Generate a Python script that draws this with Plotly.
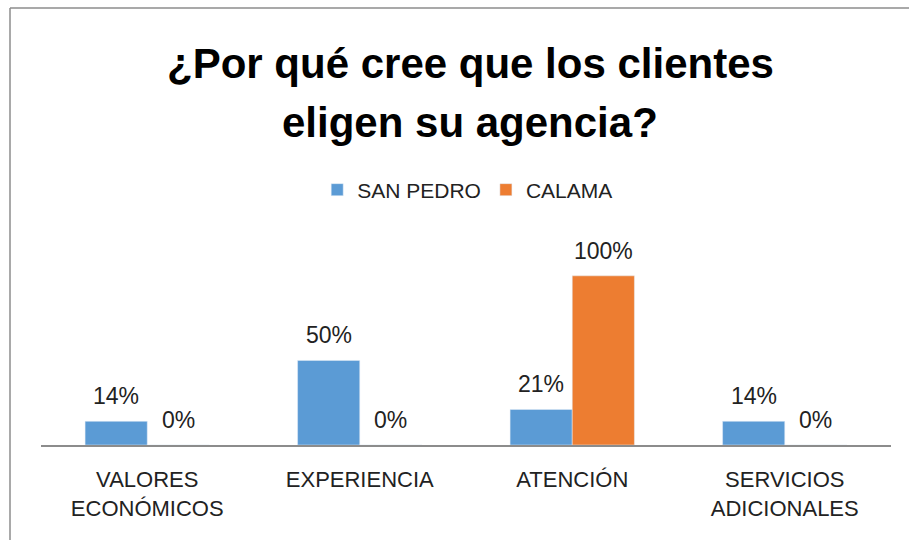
import plotly.graph_objects as go

categories = ["VALORES<br>ECONÓMICOS", "EXPERIENCIA", "ATENCIÓN", "SERVICIOS<br>ADICIONALES"]
san_pedro = [14, 50, 21, 14]
calama = [0, 0, 100, 0]
title_lines = ["¿Por qué cree que los clientes", "eligen su agencia?"]

W, H = 909, 540
ml, mr, mt, mb = 41, 18, 242, 95
pw = W - ml - mr
ph = H - mt - mb
font = "Liberation Sans, Arial, sans-serif"


def py(px):
    # pixel row -> paper y
    return (H - mb - px) / ph


fig = go.Figure()
for name, vals, color, shift in [("SAN PEDRO", san_pedro, "#5b9bd5", -31),
                                 ("CALAMA", calama, "#ed7d31", 31)]:
    fig.add_trace(go.Bar(x=categories, y=vals, name=name, marker=dict(color=color)))
    # value labels above each bar
    for cat, v in zip(categories, vals):
        fig.add_annotation(x=cat, y=v, text=f"{v}%", showarrow=False,
                           xshift=shift, yshift=25, yanchor="middle",
                           font=dict(size=23, color="#222222", family=font))

for i, line in enumerate(title_lines):
    fig.add_annotation(xref="paper", yref="paper", x=0.505, y=py(63 + 60 * i),
                       text=f"<b>{line}</b>", showarrow=False, yanchor="middle",
                       font=dict(size=42, color="#000000", family=font))

# chart frame (top and left edges visible)
fig.add_shape(type="line", xref="paper", yref="paper",
              x0=(10 - ml) / pw, x1=(W - ml) / pw, y0=py(8), y1=py(8),
              line=dict(color="#8c8c8c", width=1.5))
fig.add_shape(type="line", xref="paper", yref="paper",
              x0=(10 - ml) / pw, x1=(10 - ml) / pw, y0=py(8), y1=py(560),
              line=dict(color="#8c8c8c", width=1.5))

fig.update_layout(
    width=W, height=H,
    margin=dict(l=ml, r=mr, t=mt, b=mb),
    paper_bgcolor="white", plot_bgcolor="white",
    barmode="group", bargap=0.415, bargroupgap=0,
    legend=dict(
        orientation="h", x=0.502, xanchor="center",
        y=py(190), yanchor="middle",
        font=dict(size=21, color="#222222", family=font),
        itemwidth=30, traceorder="normal",
    ),
    xaxis=dict(
        showline=True, linecolor="#8c8c8c", linewidth=2,
        ticks="", tickfont=dict(size=22, color="#222222", family=font),
        ticklabelstandoff=14, showgrid=False,
    ),
    yaxis=dict(range=[0, 120], visible=False, showgrid=False),
)

fig.write_html("out.html", config={"displayModeBar": False},
               post_script="document.body.style.margin='0';")
